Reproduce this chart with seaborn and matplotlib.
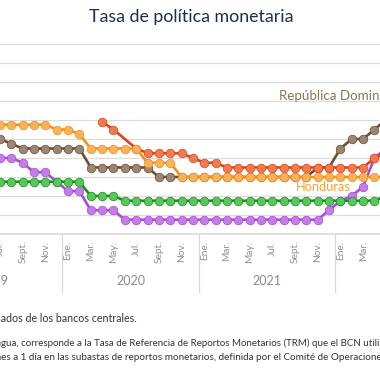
import numpy as np
import pandas as pd
import matplotlib
matplotlib.use("Agg")
import matplotlib.pyplot as plt
import matplotlib.transforms as mtransforms
import seaborn as sns

# monthly observations, Jul 2019 - May 2022 (the picture only shows a window of the full chart)
meses = pd.period_range("2019-07", "2022-05", freq="M")

honduras = [5.75, 5.75, 5.75, 5.75, 5.75, 5.5,
            5.5, 5.25, 4.5, 4.5, 4.5, 4.5, 4.5, 3.75, 3.75, 3.75, 3.0, 3.0,
            3.0, 3.0, 3.0, 3.0, 3.0, 3.0, 3.0, 3.0, 3.0, 3.0, 3.0, 3.0,
            3.0, 3.0, 3.0, 3.0, 3.0]
rep_dominicana = [5.0, 4.75, 4.5, 4.5, 4.5, 4.5,
                  4.5, 4.5, 3.5, 3.5, 3.5, 3.5, 3.5, 3.5, 3.0, 3.0, 3.0, 3.0,
                  3.0, 3.0, 3.0, 3.0, 3.0, 3.0, 3.0, 3.0, 3.0, 3.0, 3.5, 3.5,
                  4.5, 5.0, 5.0, 5.5, 6.0]
guatemala = [2.75, 2.75, 2.75, 2.75, 2.75, 2.75,
             2.75, 2.75, 2.0, 2.0, 2.0, 1.75, 1.75, 1.75, 1.75, 1.75, 1.75, 1.75,
             1.75, 1.75, 1.75, 1.75, 1.75, 1.75, 1.75, 1.75, 1.75, 1.75, 1.75, 1.75,
             1.75, 1.75, 1.75, 1.75, 2.0]
costa_rica = [4.0, 4.0, 3.75, 3.25, 3.25, 2.75,
              2.25, 2.25, 1.25, 1.25, 1.25, 0.75, 0.75, 0.75, 0.75, 0.75, 0.75, 0.75,
              0.75, 0.75, 0.75, 0.75, 0.75, 0.75, 0.75, 0.75, 0.75, 0.75, 0.75, 1.25,
              1.75, 2.0, 2.5, 4.0, 4.5]
nicaragua = [np.nan, np.nan, np.nan, np.nan, np.nan, np.nan,
             np.nan, np.nan, np.nan, 5.9, 5.5, np.nan, 4.5, 4.25, 4.25, 4.25, 4.25, 4.0,
             3.75, 3.75, 3.5, 3.5, 3.5, 3.5, 3.5, 3.5, 3.5, 3.5, 3.5, 3.5,
             3.5, 3.5, 3.5, 4.0, 4.25]

meses_lbl = ["Ene.", "Feb.", "Mar.", "Abr.", "May.", "Jun.",
             "Jul.", "Ago.", "Sept.", "Oct.", "Nov.", "Dic."]
anios = [2019, 2020, 2021]

# draw order: first = bottom
series = {"República Dominicana": rep_dominicana, "Costa Rica": costa_rica,
          "Guatemala": guatemala, "Nicaragua": nicaragua, "Honduras": honduras}
colores = {"República Dominicana": ("#6b4f2e", "#9c8573"),
           "Costa Rica": ("#a24fd4", "#c57ce6"),
           "Guatemala": ("#16921b", "#58c65a"),
           "Nicaragua": ("#d8461d", "#f27b4e"),
           "Honduras": ("#f39117", "#f8b25a")}

x = np.arange(len(meses))
df = pd.concat([pd.DataFrame({"x": x, "tasa": v, "pais": k}) for k, v in series.items()])
df = df.dropna()

sns.set_theme(style="whitegrid")
plt.rcParams["font.family"] = ["Lato", "DejaVu Sans"]

fig = plt.figure(figsize=(3.8, 3.8), dpi=100)
ax = fig.add_axes([0, 146 / 380, 1, 190 / 380])

for pais in series:
    linea, punto = colores[pais]
    sns.lineplot(data=df[df.pais == pais], x="x", y="tasa", ax=ax, color=linea,
                 lw=1.9, marker="o", markersize=6.2, markerfacecolor=punto,
                 markeredgecolor=linea, markeredgewidth=0.5)

# x in months, Jan 2020 at pixel 65, 11.46 px per month
ene20 = 6
xmin, xmax = ene20 - 65 / 11.46, ene20 + 315 / 11.46
ax.set_xlim(xmin, xmax)
ax.set_ylim(0, 10)
ax.set_yticks(range(0, 11))
ax.set_yticklabels([])
ax.tick_params(axis="y", length=0)
ax.grid(axis="y", color="#dcdcdc", lw=0.9)
ax.grid(axis="x", visible=False)
for s in ["left", "right", "top"]:
    ax.spines[s].set_visible(False)
ax.spines["bottom"].set_color("#dcdcdc")
ax.set_xlabel("")
ax.set_ylabel("")

pos = [i for i in x[::2] if i < xmax - 0.6]
ax.set_xticks(pos)
ax.set_xticklabels([meses_lbl[meses[i].month - 1] for i in pos], rotation=90,
                   fontsize=7.3, color="#8f8f8f")
ax.tick_params(axis="x", length=0, pad=5)

trans = mtransforms.blended_transform_factory(ax.transData, ax.transAxes)
for a in anios:
    ene = (a - 2020) * 12 + ene20
    ax.plot([ene - 0.5, ene - 0.5], [0, -0.305], transform=trans, color="#d9d9d9",
            lw=0.9, clip_on=False)
    ax.text(ene + 5.5, -0.247, str(a), transform=trans, ha="center", va="center",
            fontsize=9, color="#8a8a8a")
ax.plot([ene20 + 23.5] * 2, [0, -0.305], transform=trans, color="#d9d9d9", lw=0.9,
        clip_on=False)

fig.text(191.7 / 380, 1 - 17 / 380, "Tasa de política monetaria", ha="center",
         va="center", fontsize=12.8, color="#1f2e4b")
fig.text(279 / 380, 1 - 96 / 380, "República Dominicana", ha="left", va="center",
         fontsize=9.6, color="#8d7659")
fig.text(295.5 / 380, 1 - 186.7 / 380, "Honduras", ha="left", va="center",
         fontsize=9.2, color="#f5a23c")

# notes: only the middle of each line is inside the picture
renderer = fig.canvas.get_renderer()


def texto_cortado(completo, prefijo, x_px, y_px, **kw):
    t = fig.text(0, 0, prefijo, **kw)
    w = t.get_window_extent(renderer).width
    t.remove()
    fig.text((x_px - w) / 380, 1 - y_px / 380, completo, ha="left", va="center", **kw)


texto_cortado("Fuente: SECMCA con datos tomados de los bancos centrales.",
              "Fuente: SECMCA con datos tom", 1.0, 318, fontsize=7.7, color="#333333")
texto_cortado("Nota: para Nicaragua, corresponde a la Tasa de Referencia de Reportos "
              "Monetarios (TRM) que el BCN utiliza como referencia para sus",
              "Nota: para Nicara", 0.7, 343, fontsize=7.05, color="#333333")
texto_cortado("operaciones a 1 día en las subastas de reportos monetarios, definida por "
              "el Comité de Operaciones Monetarias.",
              "operacion", 0.7, 357, fontsize=7.1, color="#333333")

fig.savefig("out.png", dpi=100, facecolor="white")
